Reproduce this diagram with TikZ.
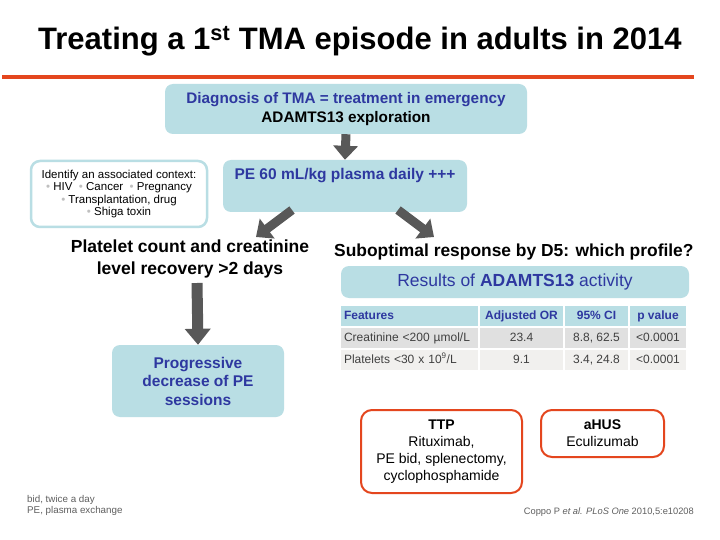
\documentclass[tikz,border=0pt]{standalone}
\usepackage{fontspec}
\setmainfont{Liberation Sans}
\usepackage{tikz}
\usetikzlibrary{arrows.meta,positioning}

\definecolor{boxteal}{RGB}{185,222,228}
\definecolor{textblue}{RGB}{46,56,160}
\definecolor{lineorange}{RGB}{228,70,30}
\definecolor{arrowgray}{RGB}{88,88,88}
\definecolor{rowone}{RGB}{224,224,224}
\definecolor{rowtwo}{RGB}{241,240,238}
\definecolor{notegray}{RGB}{95,95,95}

\tikzset{
  tealbox/.style={rounded corners=8pt, fill=boxteal, draw=none, align=center, inner sep=0pt},
  ctxbox/.style={rounded corners=9pt, fill=white, draw=boxteal, line width=2.5pt, align=center, inner sep=0pt},
  redbox/.style={rounded corners=11pt, fill=white, draw=lineorange, line width=2pt, align=center, inner sep=0pt},
  fatarrow/.style={draw=arrowgray, line width=9pt, -{Triangle[length=14pt,width=24pt]}},
  cell/.style={inner ysep=0pt, inner xsep=0pt, minimum height=20pt, text height=9pt, text depth=2.5pt,
    font=\fontsize{12}{14}\selectfont},
  headcell/.style={cell, fill=boxteal, text=textblue, font=\fontsize{12}{14}\selectfont\bfseries},
}

\begin{document}
\begin{tikzpicture}[x=1pt, y=-1pt]
\useasboundingbox[fill=white] (0,0) rectangle (720,540);

%%%%% Title %%%%%
\node[anchor=base west, inner sep=0pt, font=\fontsize{31}{34}\selectfont\bfseries] (title) at (38,50)
  {Treating a 1\textsuperscript{st} TMA episode in adults in 2014};
\draw[lineorange, line width=4pt] (2,77) -- (694,77);

%%%%% Top boxes %%%%%
\node[tealbox, minimum width=362pt, minimum height=50pt, text=textblue,
  font=\fontsize{15.3}{19}\selectfont\bfseries] (diag) at (346,109)
  {Diagnosis of TMA = treatment in emergency\\ \textcolor{black}{ADAMTS13 exploration}};
\node[tealbox, minimum width=244pt, minimum height=52pt, text=textblue,
  font=\fontsize{15.5}{19}\selectfont\bfseries] (pe) at (345,186)
  {PE 60 mL/kg plasma daily +++\\ \strut};
\node[ctxbox, minimum width=176pt, minimum height=66pt,
  font=\fontsize{11.5}{12.4}\selectfont] (ctx) at (119,194)
  {Identify an associated context:\\
   \textcolor{gray!50}{•} HIV \ \textcolor{gray!50}{•} Cancer \ \textcolor{gray!50}{•} Pregnancy\\
   \textcolor{gray!50}{•} Transplantation, drug\\
   \textcolor{gray!50}{•} Shiga toxin};

%%%%% Two outcomes %%%%%
\node[align=center, inner sep=0pt, font=\fontsize{17.5}{22}\selectfont\bfseries] (recov) at (190,259)
  {Platelet count and creatinine\\ level recovery >2 days};
\node[anchor=base west, inner sep=0pt, font=\fontsize{17.4}{20}\selectfont\bfseries] (subopt) at (334,256)
  {Suboptimal response by D5: which profile?};

\node[tealbox, minimum width=172pt, minimum height=72pt, text=textblue,
  font=\fontsize{15.5}{18.5}\selectfont\bfseries] (progr) at (198,381)
  {Progressive\\ decrease of PE\\ sessions};
\node[tealbox, minimum width=348pt, minimum height=32pt, text=textblue,
  font=\fontsize{17.5}{20}\selectfont] (results) at (515,282)
  {Results of \textbf{ADAMTS13} activity};

%%%%% Arrows %%%%%
\draw[fatarrow] (diag.south) -- (pe.north);
\coordinate (peL) at (292,210);
\coordinate (peR) at (398,210);
\draw[fatarrow] (peL) -- (256,237);
\draw[fatarrow] (peR) -- (434,237);
\draw[fatarrow, line width=11pt, -{Triangle[length=16pt,width=25pt]}] (197,283) -- (progr.north);

%%%%% Table %%%%%
\node[headcell, minimum width=137pt, text width=131pt, align=left] (hfeat) at (409.5,316) {Features};
\node[headcell, minimum width=83pt] (haor) at (521.5,316) {Adjusted OR};
\node[headcell, minimum width=63pt] (hci) at (596.5,316) {95\% CI};
\node[headcell, minimum width=56pt] (hpv) at (658,316) {p value};
\foreach [count=\n] \feat/\aor/\ci/\pv/\rowc in {
  {Creatinine <200 µmol/L}/23.4/{8.8, 62.5}/{<0.0001}/rowone,
  {Platelets <30 x 10\textsuperscript{9}/L}/9.1/{3.4, 24.8}/{<0.0001}/rowtwo}{
  \pgfmathsetmacro\yy{316+22*\n}
  \node[cell, fill=\rowc, text=black!75, minimum width=137pt, text width=131pt, align=left] (feat\n) at (409.5,\yy) {\feat};
  \node[cell, fill=\rowc, text=black!75, minimum width=83pt] (aor\n) at (521.5,\yy) {\aor};
  \node[cell, fill=\rowc, text=black!75, minimum width=63pt] (ci\n) at (596.5,\yy) {\ci};
  \node[cell, fill=\rowc, text=black!75, minimum width=56pt] (pv\n) at (658,\yy) {\pv};
}

%%%%% Profiles %%%%%
\node[redbox, minimum width=161pt, minimum height=83pt,
  font=\fontsize{14}{17}\selectfont] (ttp) at (441.5,451.5)
  {\textbf{TTP}\\ Rituximab,\\ PE bid, splenectomy,\\ cyclophosphamide};
\node[redbox, minimum width=123pt, minimum height=47pt,
  font=\fontsize{14}{17}\selectfont] (ahus) at (602.5,433.5)
  {\textbf{aHUS}\\ Eculizumab};

%%%%% Notes %%%%%
\node[anchor=north west, align=left, inner sep=0pt, text=notegray,
  font=\fontsize{9.8}{11.5}\selectfont] (notes) at (27,495)
  {bid, twice a day\\ PE, plasma exchange};
\node[anchor=base east, inner sep=0pt, text=notegray,
  font=\fontsize{9.3}{11}\selectfont] (cite) at (694,514)
  {Coppo P \textit{et al. PLoS One} 2010,5:e10208};
\end{tikzpicture}
\end{document}
